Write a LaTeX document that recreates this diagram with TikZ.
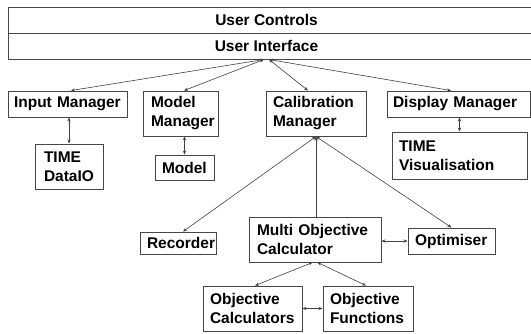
\documentclass[tikz,border=0pt]{standalone}
\usepackage{fontspec}
\setmainfont{Liberation Sans}
\usetikzlibrary{arrows.meta,calc}
\begin{document}
\begin{tikzpicture}[x=1pt,y=-1pt,
  lbl/.style={font=\fontsize{15.5}{19}\selectfont\bfseries},
  box/.style={lbl, draw=black!72, line width=0.9pt, align=left,
    inner xsep=7pt, inner ysep=0pt,
    execute at begin node={\hyphenpenalty=10000\exhyphenpenalty=10000}},
  band/.style={draw=black!72, line width=0.9pt, inner sep=0pt},
  link/.style={draw=black!75, line width=0.6pt, {Stealth[length=4pt,width=3.2pt]}-{Stealth[length=4pt,width=3.2pt]}},
  uplink/.style={draw=black!75, line width=0.6pt, -{Stealth[length=4pt,width=3.2pt]}}]
\clip (0,0) rectangle (531,333);

% top bands
\node[band, minimum width=532pt, minimum height=26pt] (uc) at (274,20) {};
\node[band, minimum width=532pt, minimum height=26pt] (ui) at (274,46) {};
\node[lbl] (uctext) at (266.5,20) {User Controls};
\node[lbl] (uitext) at (266.5,46) {User Interface};

% managers
\node[box, minimum width=119pt, minimum height=26pt, text width=107pt, inner xsep=6pt] (im) at (67.5,104) {Input Manager};
\node[box, minimum width=73pt, minimum height=45pt, text width=59pt, inner xsep=8pt] (mm) at (180.5,113.5) {Model\\Manager};
\node[box, minimum width=100pt, minimum height=45pt, text width=86pt] (cm) at (316,113.5) {Calibration\\Manager};
\node[box, minimum width=143pt, minimum height=26pt, text width=131pt, inner xsep=6pt] (dm) at (458.5,104) {Display Manager};

% managed items
\node[box, minimum width=68pt, minimum height=45pt, text width=50pt, inner xsep=9pt] (dio) at (69,166.5) {TIME\\DataIO};
\node[box, minimum width=59pt, minimum height=25pt, text width=45pt] (model) at (184.5,167.5) {Model};
\node[box, minimum width=135pt, minimum height=47pt, text width=121pt] (tv) at (459.5,155.5) {TIME\\Visualisation};

% calibration parts
\node[box, minimum width=76pt, minimum height=22pt, text width=62pt] (rec) at (178,243) {Recorder};
\node[box, minimum width=132pt, minimum height=45pt, text width=116pt, inner xsep=8pt] (moc) at (315,239.5) {Multi Objective\\Calculator};
\node[box, minimum width=87pt, minimum height=26pt, text width=73pt] (opt) at (451.5,241) {Optimiser};
\node[box, minimum width=99pt, minimum height=45pt, text width=85pt] (oc) at (252.5,308.5) {Objective\\Calculators};
\node[box, minimum width=90pt, minimum height=45pt, text width=76pt] (of) at (368,308.5) {Objective\\Functions};

% interface hub
\coordinate (hubl) at (264,59.5);
\coordinate (hubr) at (269,59.5);
\draw[link] (hubl) -- ($(im.north)+(3.5,0)$);
\draw[link] (hubl) -- ($(mm.north)+(3.5,0)$);
\draw[link] (hubr) -- ($(cm.north)+(-8,0)$);
\draw[link] (hubr) -- ($(dm.north)+(-7.5,0)$);

% manager to item
\draw[link] (dio.north |- im.south) -- (dio.north);
\draw[link] (model.north |- mm.south) -- (model.north);
\draw[link] (tv.north |- dm.south) -- (tv.north);

% calibration manager fan-out
\draw[link] (cm.south) -- ($(rec.north)+(5,0)$);
\draw[uplink] (moc.north -| cm.south) -- (cm.south);
\draw[link] (cm.south) -- (opt.north);
\draw[link] (moc.east |- opt.west) -- (opt.west);

% objective parts
\draw[link] ($(moc.south)+(-2.5,0)$) -- ($(oc.north)+(2.5,0)$);
\draw[link] ($(moc.south)+(2.5,0)$) -- ($(of.north)+(-2,0)$);
\draw[link, line width=1.1pt] (oc.east) -- (of.west);
\end{tikzpicture}
\end{document}
